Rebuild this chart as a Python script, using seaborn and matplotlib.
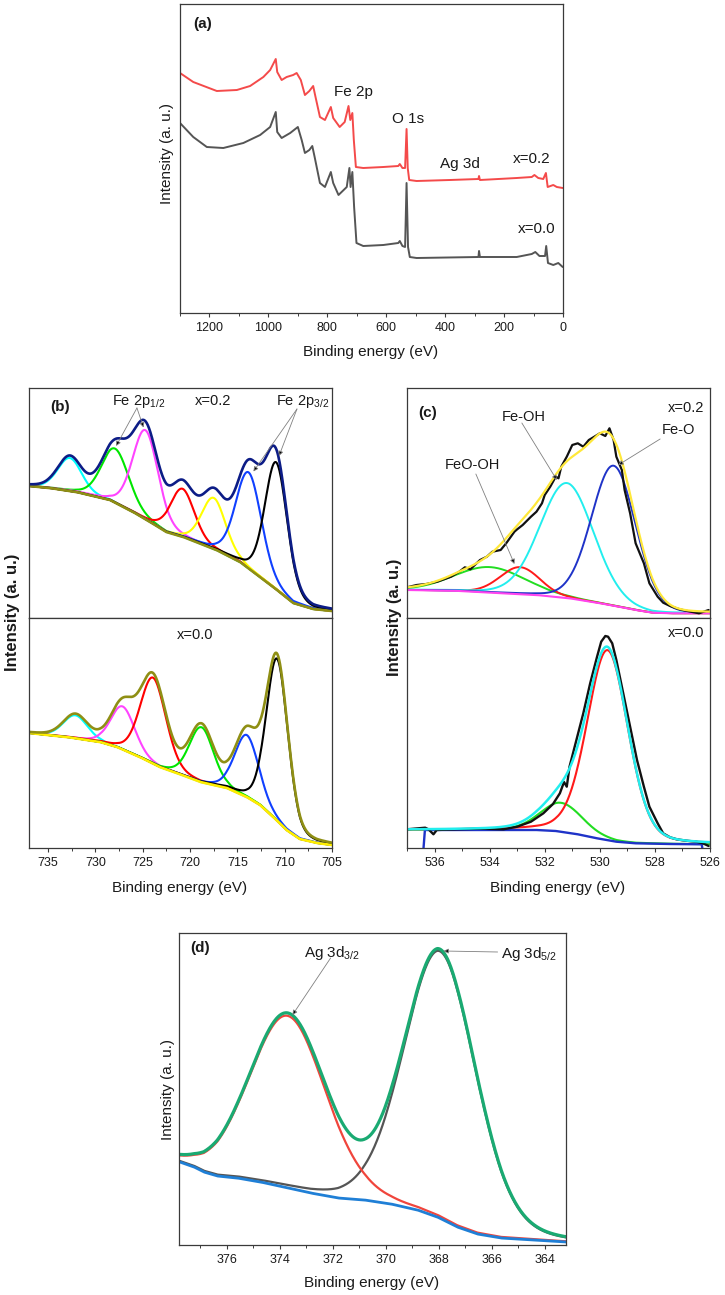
import numpy as np
import matplotlib
matplotlib.use("Agg")
import matplotlib.pyplot as plt
from matplotlib.ticker import MultipleLocator
import seaborn as sns

# --- XPS spectra of x=0.0 / x=0.2 samples ---

# (a) survey spectra, traced: binding energy (eV) / intensity (a.u.)
a_e_02 = [1300, 1255, 1175, 1107, 1062, 1017, 994, 975, 970, 955, 938, 916, 904, 890, 876, 861, 848, 840, 825, 808,
          788, 780, 758, 741, 728, 722, 715, 710, 703, 678, 610, 559, 554, 545, 536, 531, 527, 522, 497, 384,
          287, 285, 282, 157, 106, 97, 84, 67, 58, 52, 33, 21, 1]
a_i_02 = [240, 231, 222, 223, 227, 236, 243, 254, 241, 233, 236, 238, 240, 233, 218, 222, 227, 216, 196, 193,
          206, 195, 186, 191, 207, 193, 200, 173, 146, 145, 146, 147, 149, 145, 145, 184, 145, 133, 132, 133,
          134, 137, 133, 135, 136, 138, 135, 134, 140, 126, 128, 126, 125]
a_e_00 = [1300, 1255, 1209, 1153, 1085, 1028, 994, 975, 970, 955, 926, 900, 887, 876, 861, 851, 843, 825, 808, 788,
          780, 762, 734, 725, 721, 715, 709, 701, 678, 610, 559, 554, 545, 536, 531, 526, 520, 497, 287, 285,
          282, 157, 106, 94, 80, 61, 57, 51, 33, 16, 1]
a_i_00 = [190, 176, 166, 165, 170, 178, 186, 201, 181, 175, 180, 186, 173, 160, 163, 167, 156, 130, 126, 141,
          130, 118, 126, 145, 126, 141, 106, 70, 67, 68, 70, 72, 67, 66, 130, 66, 56, 55, 56, 62,
          56, 56, 59, 61, 57, 57, 67, 50, 48, 50, 46]

# (b) Fe 2p fits: Shirley background + peak centre / height / FWHM
b2_bg_e = [737.0, 734.8, 732.0, 728.45, 726.0, 724.2, 722.5, 720.7, 717.2, 714.7, 712.6, 710.8, 709.1, 707.0, 705.0]
b2_bg_i = [132, 130, 126, 118, 106, 96, 86, 81, 68, 56, 41, 28, 15, 9, 7]
b2_pos = [732.7, 727.9, 724.7, 720.8, 717.5, 713.8, 710.9]
b2_amp = [33, 54, 89, 48, 51, 96, 127]
b2_fwhm = [3.0, 3.4, 3.2, 3.0, 3.0, 3.2, 2.8]

b0_bg_e = [737.0, 733.0, 729.5, 727.7, 725.3, 723.2, 721.4, 718.9, 716.1, 714.0, 712.6, 711.2, 709.8, 708.4, 706.6, 705.0]
b0_bg_i = [115, 111, 106, 101, 91, 81, 75, 66, 60, 51, 43, 31, 18, 9, 5, 3]
b0_pos = [732.1, 727.1, 723.9, 718.8, 714.0, 710.8]
b0_amp = [23, 43, 86, 55, 62, 162]
b0_fwhm = [3.0, 3.0, 3.2, 3.0, 3.0, 2.7]

# (c) O 1s fits + raw data
c2_bg_e = [537.0, 535.3, 533.5, 532.3, 531.1, 530.1, 529.3, 528.7, 528.1, 527.45, 526.05]
c2_bg_i = [28, 27.3, 24.7, 23, 19.7, 15.3, 11.3, 8, 5.3, 4.7, 4.7]
c2_pos = [534.0, 532.9, 531.2, 529.5]
c2_amp = [25.5, 27, 115, 140]
c2_fwhm = [3.0, 1.7, 2.3, 1.9]
c2_raw_e = [537.0, 536.65, 536.3, 535.9, 535.4, 535.1, 534.9, 534.7, 534.35, 534.1, 533.9, 533.6, 533.4, 533.1,
            533.0, 532.8, 532.5, 532.3, 532.1, 532.0, 531.8, 531.6, 531.5, 531.4, 531.2, 531.0, 530.8, 530.6,
            530.4, 530.2, 530.0, 529.8, 529.65, 529.5, 529.4, 529.2, 529.1, 528.9, 528.7, 528.4, 528.2, 527.9,
            527.7, 527.45, 527.1, 526.7, 526.4, 526.05]
c2_raw_i = [30.7, 33, 34, 36.3, 41.3, 46.3, 50.7, 48.7, 58, 61.3, 66.3, 68, 74.7, 86.3,
            88.7, 93, 101.3, 106.3, 114.7, 123, 131.3, 141.3, 139.7, 151.3, 161.3, 173, 174.7, 171.3,
            178, 181.3, 184.7, 182, 189.7, 178, 161.3, 148, 128, 104.7, 74.7, 54.7, 34.7, 21.3,
            15.3, 12, 8.7, 6.3, 4.7, 8]

c0_bg_e = [536.4, 536.35, 532.3, 531.6, 530.8, 530.1, 529.4, 528.7, 527.45, 526.3, 526.28]
c0_bg_i = [0, 18, 18, 17, 13.7, 9.7, 6.3, 4.7, 4, 3.7, 0]
c0_pos = [531.4, 529.72]
c0_amp = [29, 190]
c0_fwhm = [1.8, 1.75]
c0_raw_e = [537.0, 536.34, 536.22, 536.04, 535.92, 535.19, 534.35, 533.5, 533.0, 532.5, 532.05, 531.7, 531.45,
            531.3, 531.2, 531.1, 530.85, 530.6, 530.35, 530.1, 529.95, 529.8, 529.7, 529.55, 529.4, 529.15,
            528.9, 528.65, 528.4, 528.2, 527.9, 527.7, 527.45, 527.2, 526.85, 526.5, 526.25, 526.05]
c0_raw_i = [18.7, 20.3, 18.7, 13.7, 18, 18.7, 19.3, 18.7, 21.3, 26.3, 34.7, 44, 54.7,
            66, 61.3, 81.3, 108, 134.7, 164.7, 191.3, 206.3, 212, 211.3, 204.7, 188, 154.7,
            121.3, 88, 61.3, 41.3, 24.7, 14.7, 10.7, 8.7, 7.3, 6.3, 4.7, 2]

# (d) Ag 3d fit
d_bg_e = [377.77, 377.23, 376.86, 376.35, 375.6, 374.72, 373.84, 372.83, 371.8, 370.8, 369.8, 368.8, 368.05,
          367.3, 366.54, 365.66, 364.4, 363.18]
d_bg_i = [83, 78, 73, 69, 67, 63, 58, 52, 47, 45, 41, 35, 28, 18, 11, 7, 5, 3]
d_pos = [373.7, 367.95]
d_amp = [172, 267]
d_fwhm = [3.4, 3.2]

# --- style ---
sns.set_theme(style="ticks")
plt.rcParams['font.family'] = ['Liberation Sans', 'DejaVu Sans']
plt.rcParams['mathtext.fontset'] = 'custom'
plt.rcParams['mathtext.rm'] = 'Liberation Sans'
plt.rcParams['mathtext.it'] = 'Liberation Sans:italic'
plt.rcParams['mathtext.bf'] = 'Liberation Sans:bold'

W, H = 725, 1295
fig = plt.figure(figsize=(W / 100, H / 100), dpi=100)
TXT = '#1a1a1a'


def add_ax(left, top, right, bottom):
    return fig.add_axes([left / W, 1 - bottom / H, (right - left) / W, (bottom - top) / H])


def ftext(px, py, s, **kw):
    fig.text(px / W, 1 - py / H, s, ha='center', va='center', color=TXT, **kw)


def pv(e, c, fwhm, eta):
    u = ((e - c) / (fwhm / 2.0)) ** 2
    return eta / (1 + u) + (1 - eta) * np.exp(-np.log(2) * u)


def baseline(e, be, bi):
    be = np.asarray(be, float)
    bi = np.asarray(bi, float)
    o = np.argsort(be)
    return np.interp(e, be[o], bi[o])


def line(ax, x, y, color, lw, z=2):
    sns.lineplot(x=np.asarray(x), y=np.asarray(y), ax=ax, color=color, linewidth=lw,
                 estimator=None, sort=False, errorbar=None, zorder=z)


def style_ax(ax, xlim, ylim, major, minor, labels=True):
    ax.set_xlim(*xlim)
    ax.set_ylim(*ylim)
    ax.set_yticks([])
    ax.set_xlabel('')
    ax.set_ylabel('')
    for sp in ax.spines.values():
        sp.set_color('#3a3a3a')
        sp.set_linewidth(0.9)
    ax.xaxis.set_major_locator(MultipleLocator(major))
    ax.xaxis.set_minor_locator(MultipleLocator(minor))
    ax.tick_params(axis='x', which='major', direction='out', length=3.2, width=0.8,
                   colors='#3a3a3a', labelcolor=TXT, labelsize=9, pad=3.5)
    ax.tick_params(axis='x', which='minor', direction='out', length=2.0, width=0.7, colors='#3a3a3a')
    if not labels:
        ax.tick_params(axis='x', which='both', bottom=False, labelbottom=False)


def arrow(ax, xy, xytext):
    ax.annotate('', xy=xy, xytext=xytext,
                arrowprops=dict(arrowstyle='-|>', mutation_scale=7, lw=0.6,
                                ec='#808080', fc='black', shrinkA=0, shrinkB=0))


def fit(ax, e, bg, pos, amp, fwhm, eta, colors, lw):
    peaks = [a * pv(e, c, w, eta) for c, a, w in zip(pos, amp, fwhm)]
    for p, col in zip(peaks, colors):
        line(ax, e, bg + p, col, lw)
    return bg + np.sum(peaks, axis=0)


# --- (a) survey ---
ax = add_ax(180, 4, 563, 313)
line(ax, a_e_00, a_i_00, '#555555', 1.4)
line(ax, a_e_02, a_i_02, '#f44a4a', 1.4)
style_ax(ax, (1300, 0), (0, 309), 200, 100)
ax.text(1222, 289, '(a)', fontsize=11, fontweight='bold', ha='center', va='center', color=TXT)
for s, x, y in [('Fe 2p', 713, 221), ('O 1s', 526, 194), ('Ag 3d', 350, 149),
                ('x=0.2', 105, 154), ('x=0.0', 88, 84)]:
    ax.text(x, y, s, fontsize=11, ha='center', va='center', color=TXT)
ftext(371, 352, 'Binding energy (eV)', fontsize=11)
ftext(167, 154, 'Intensity (a. u.)', fontsize=11, rotation=90)

# --- (b) Fe 2p ---
e = np.linspace(737, 705, 700)
ax = add_ax(29, 388, 332, 618)
bg = baseline(e, b2_bg_e, b2_bg_i)
env = fit(ax, e, bg, b2_pos, b2_amp, b2_fwhm, 0.2,
          ['#00ffff', '#00e600', '#ff44ff', '#ff0000', '#ffff00', '#1040ff', '#000000'], 1.5)
line(ax, e, bg, '#8f8f14', 1.9)
line(ax, e, env, '#0c1c86', 1.9)
style_ax(ax, (737, 705), (0, 230), 5, 2.5, labels=False)
ax.text(733.7, 211, '(b)', fontsize=11, fontweight='bold', ha='center', va='center', color=TXT)
ax.text(725.4, 217, r'Fe 2p$_{1/2}$', fontsize=10.5, ha='center', va='center', color=TXT)
ax.text(717.6, 217, 'x=0.2', fontsize=10.5, ha='center', va='center', color=TXT)
ax.text(708.1, 217, r'Fe 2p$_{3/2}$', fontsize=10.5, ha='center', va='center', color=TXT)
arrow(ax, (727.8, 172), (725.6, 210))
arrow(ax, (724.9, 190.5), (725.6, 210))
arrow(ax, (713.3, 146.5), (708.7, 209))
arrow(ax, (710.6, 162), (708.7, 209))

ax = add_ax(29, 618, 332, 848)
bg = baseline(e, b0_bg_e, b0_bg_i)
env = fit(ax, e, bg, b0_pos, b0_amp, b0_fwhm, 0.2,
          ['#00ffff', '#ff44ff', '#ff0000', '#00e600', '#1040ff', '#000000'], 1.5)
line(ax, e, bg, '#ffee00', 1.9)
line(ax, e, env, '#8f8f14', 1.9)
style_ax(ax, (737, 705), (0, 230), 5, 2.5)
ax.text(719.5, 213, 'x=0.0', fontsize=10.5, ha='center', va='center', color=TXT)
ftext(180, 888, 'Binding energy (eV)', fontsize=11)
ftext(13, 612, 'Intensity (a. u.)', fontsize=12, fontweight='bold', rotation=90)

# --- (c) O 1s ---
e = np.linspace(537, 526, 600)
ax = add_ax(407, 388, 710, 618)
bg = baseline(e, c2_bg_e, c2_bg_i)
env = fit(ax, e, bg, c2_pos, c2_amp, c2_fwhm, 0.1,
          ['#22dd22', '#ff1a1a', '#22eeee', '#1f33c8'], 1.4)
line(ax, e, bg, '#ff44ee', 1.5)
line(ax, c2_raw_e, c2_raw_i, '#111111', 1.6)
line(ax, e, env, '#ffe83a', 1.6)
style_ax(ax, (537, 526), (0, 230), 2, 1, labels=False)
ax.text(536.24, 205, '(c)', fontsize=11, fontweight='bold', ha='center', va='center', color=TXT)
ax.text(526.87, 210, 'x=0.2', fontsize=10.5, ha='center', va='center', color=TXT)
ax.text(532.75, 201, 'Fe-OH', fontsize=10.5, ha='center', va='center', color=TXT)
ax.text(527.16, 188, 'Fe-O', fontsize=10.5, ha='center', va='center', color=TXT)
ax.text(534.64, 153, 'FeO-OH', fontsize=10.5, ha='center', va='center', color=TXT)
arrow(ax, (531.56, 138), (532.83, 195))
arrow(ax, (529.33, 153), (527.81, 179))
arrow(ax, (533.1, 54), (534.5, 144))

ax = add_ax(407, 618, 710, 848)
bg = baseline(e, c0_bg_e[1:-1], c0_bg_i[1:-1])
env = fit(ax, e, bg, c0_pos, c0_amp, c0_fwhm, 0.2, ['#22dd22', '#ff1a1a'], 1.5)
line(ax, c0_bg_e, c0_bg_i, '#1f33c8', 1.7)
line(ax, c0_raw_e, c0_raw_i, '#111111', 1.7)
line(ax, e, env, '#22eeee', 1.8)
style_ax(ax, (537, 526), (0, 230), 2, 1)
ax.text(526.87, 215, 'x=0.0', fontsize=10.5, ha='center', va='center', color=TXT)
ftext(558, 888, 'Binding energy (eV)', fontsize=11)
ftext(395, 617, 'Intensity (a. u.)', fontsize=12, fontweight='bold', rotation=90)

# --- (d) Ag 3d ---
e = np.linspace(377.8, 363.2, 700)
ax = add_ax(179, 933, 566, 1245)
bg = baseline(e, d_bg_e, d_bg_i)
peaks = [a * pv(e, c, w, 0.15) for c, a, w in zip(d_pos, d_amp, d_fwhm)]
line(ax, e, bg + peaks[1], '#555555', 1.6)
line(ax, e, bg + peaks[0], '#f0453c', 1.6)
line(ax, e, bg, '#1f7fd6', 2.0)
line(ax, e, bg + peaks[0] + peaks[1], '#1aaa72', 2.3)
style_ax(ax, (377.8, 363.2), (0, 312), 2, 1)
ax.text(377.0, 297, '(d)', fontsize=11, fontweight='bold', ha='center', va='center', color=TXT)
ax.text(372.04, 292, r'Ag 3d$_{3/2}$', fontsize=11, ha='center', va='center', color=TXT)
ax.text(364.6, 291, r'Ag 3d$_{5/2}$', fontsize=11, ha='center', va='center', color=TXT)
arrow(ax, (373.52, 230), (372.08, 287))
arrow(ax, (367.82, 294), (365.78, 293))
ftext(372, 1283, 'Binding energy (eV)', fontsize=11)
ftext(168, 1090, 'Intensity (a. u.)', fontsize=11, rotation=90)

fig.savefig('out.png', dpi=100)
